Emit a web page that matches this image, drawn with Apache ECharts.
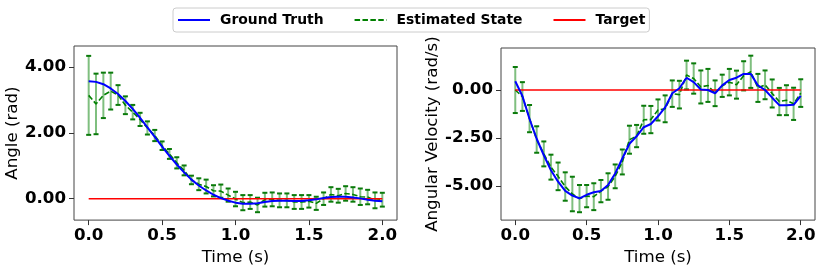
<!DOCTYPE html>
<html>
<head>
<meta charset="utf-8">
<script src="https://cdn.jsdelivr.net/npm/echarts@6/dist/echarts.min.js"></script>
<style>
html,body{margin:0;padding:0;background:#fff;}
#chart{width:831px;height:271px;}
</style>
</head>
<body>
<div id="chart"></div>
<script>
var time = [0.00,0.05,0.10,0.15,0.20,0.25,0.30,0.35,0.40,0.45,0.50,0.55,0.60,0.65,0.70,0.75,0.80,0.85,0.90,0.95,1.00,1.05,1.10,1.15,1.20,1.25,1.30,1.35,1.40,1.45,1.50,1.55,1.60,1.65,1.70,1.75,1.80,1.85,1.90,1.95,2.00];

var angleTruth = [3.57,3.55,3.48,3.35,3.18,2.97,2.73,2.46,2.17,1.88,1.58,1.30,1.04,0.80,0.58,0.40,0.25,0.12,0.02,-0.06,-0.12,-0.15,-0.15,-0.14,-0.10,-0.07,-0.06,-0.06,-0.07,-0.07,-0.05,-0.02,0.02,0.05,0.06,0.06,0.04,0.01,-0.03,-0.06,-0.08];
var angleEst = [3.14,2.88,3.14,3.27,3.15,2.84,2.63,2.41,2.15,1.92,1.61,1.36,1.09,0.86,0.57,0.44,0.37,0.24,0.23,0.11,-0.01,-0.12,-0.10,-0.19,-0.03,-0.02,-0.05,-0.05,-0.10,-0.10,-0.08,-0.14,0.00,0.13,0.09,0.16,0.13,0.06,0.05,-0.05,-0.03];
var angleErr = [1.20,0.92,0.69,0.56,0.30,0.27,0.22,0.20,0.20,0.17,0.13,0.15,0.17,0.15,0.13,0.18,0.21,0.17,0.20,0.20,0.22,0.23,0.21,0.22,0.21,0.21,0.21,0.21,0.21,0.21,0.19,0.20,0.19,0.22,0.21,0.22,0.22,0.25,0.22,0.24,0.21];

var velTruth = [0.46,-0.31,-1.51,-2.54,-3.40,-4.18,-4.78,-5.26,-5.50,-5.65,-5.46,-5.33,-5.26,-4.95,-4.35,-3.57,-2.80,-2.41,-1.94,-1.77,-1.37,-0.91,-0.17,0.09,0.64,0.41,0.03,0.00,-0.17,0.24,0.52,0.64,0.84,0.84,0.24,0.00,-0.40,-0.79,-0.79,-0.77,-0.31];
var velEst = [0.00,-0.34,-1.49,-2.58,-3.33,-4.02,-4.50,-5.03,-5.42,-5.66,-5.53,-5.56,-5.27,-5.03,-4.50,-3.75,-2.59,-2.40,-1.55,-1.54,-1.04,-0.98,-0.19,-0.24,0.78,0.60,0.16,0.24,-0.17,0.22,0.41,0.28,0.74,0.95,0.11,0.27,-0.18,-0.60,-0.53,-0.72,-0.16];
var velErr = [1.20,0.75,0.71,0.69,0.65,0.65,0.72,0.74,0.90,0.71,0.58,0.70,0.58,0.69,0.62,0.65,0.73,0.58,0.73,0.71,0.55,0.70,0.69,0.72,0.75,0.79,0.86,0.86,0.67,0.58,0.69,0.73,0.76,0.84,0.73,0.75,0.73,0.71,0.78,0.84,0.72];

var targetTimes = [0.0, 2.0];
var targetValues = [0.0, 0.0];

var xTicks = [0, 0.5, 1.0, 1.5, 2.0];
var angleTicks = [0, 2, 4];
var velTicks = [-5, -2.5, 0];

var seriesNames = ['Ground Truth', 'Estimated State', 'Target'];

function pairs(xs, ys) { return xs.map(function (x, i) { return [x, ys[i]]; }); }
function errData(xs, ys, es) { return xs.map(function (x, i) { return [x, ys[i] - es[i], ys[i] + es[i]]; }); }

var FONT = 'DejaVu Sans';
var FS = 16.67;

function renderErr(params, api) {
  var x = api.value(0);
  var lo = api.coord([x, api.value(1)]);
  var hi = api.coord([x, api.value(2)]);
  var cw = 2.5;
  return {
    type: 'group',
    children: [
      { type: 'line', shape: { x1: lo[0], y1: lo[1], x2: hi[0], y2: hi[1] },
        style: { stroke: 'rgba(0,128,0,0.5)', lineWidth: 2 } },
      { type: 'line', shape: { x1: lo[0] - cw, y1: lo[1], x2: lo[0] + cw, y2: lo[1] },
        style: { stroke: '#0a7a0a', lineWidth: 2 } },
      { type: 'line', shape: { x1: hi[0] - cw, y1: hi[1], x2: hi[0] + cw, y2: hi[1] },
        style: { stroke: '#0a7a0a', lineWidth: 2 } }
    ]
  };
}

function xAxisCfg(gi) {
  return {
    type: 'value', gridIndex: gi, min: -0.1, max: 2.1, position: 'bottom',
    name: 'Time (s)', nameLocation: 'middle', nameGap: 23,
    nameTextStyle: { fontFamily: FONT, fontSize: FS, color: '#000' },
    axisLine: { show: false, onZero: false },
    axisTick: { show: true, length: 5, lineStyle: { color: '#333' }, customValues: xTicks },
    axisLabel: { customValues: xTicks, fontFamily: FONT, fontSize: FS, fontWeight: 'bold', color: '#000', margin: 7,
      formatter: function (v) { return v.toFixed(1); } },
    splitLine: { show: false }
  };
}

function yAxisCfg(gi, name, mn, mx, ticks, gap) {
  return {
    type: 'value', gridIndex: gi, min: mn, max: mx, position: 'left',
    name: name, nameLocation: 'middle', nameGap: gap,
    nameTextStyle: { fontFamily: FONT, fontSize: FS, color: '#000' },
    axisLine: { show: false, onZero: false },
    axisTick: { show: true, length: 5, lineStyle: { color: '#333' }, customValues: ticks },
    axisLabel: { customValues: ticks, fontFamily: FONT, fontSize: FS, fontWeight: 'bold', color: '#000', margin: 8,
      formatter: function (v) { return v.toFixed(2); } },
    splitLine: { show: false }
  };
}

var chart = echarts.init(document.getElementById('chart'), null, { renderer: 'canvas' });
chart.setOption({
  animation: false,
  backgroundColor: '#fff',
  legend: {
    data: seriesNames,
    left: 173, top: 8,
    padding: [5, 4, 5, 4],
    itemWidth: 32, itemHeight: 14, itemGap: 30,
    borderColor: '#cccccc', borderWidth: 1, borderRadius: 3,
    itemStyle: { opacity: 0, borderWidth: 0 },
    textStyle: { fontFamily: FONT, fontSize: 13.9, fontWeight: 'bold', color: '#000', padding: [0, 0, 0, 5] }
  },
  grid: [
    { left: 74, top: 46, width: 323, height: 176, show: true, borderColor: '#444', borderWidth: 1, backgroundColor: 'transparent' },
    { left: 501, top: 48, width: 314, height: 174, show: true, borderColor: '#444', borderWidth: 1, backgroundColor: 'transparent' }
  ],
  xAxis: [xAxisCfg(0), xAxisCfg(1)],
  yAxis: [
    yAxisCfg(0, 'Angle (rad)', -0.65, 4.64, angleTicks, 49),
    yAxisCfg(1, 'Angular Velocity (rad/s)', -6.78, 2.19, velTicks, 56)
  ],
  series: [
    { type: 'custom', xAxisIndex: 0, yAxisIndex: 0, renderItem: renderErr, data: errData(time, angleEst, angleErr), z: 1, silent: true },
    { name: 'Estimated State', type: 'line', xAxisIndex: 0, yAxisIndex: 0, data: pairs(time, angleEst), symbol: 'none', z: 2,
      lineStyle: { color: '#008000', width: 1.6, type: [5.5, 2.4] }, itemStyle: { color: '#008000' } },
    { name: 'Target', type: 'line', xAxisIndex: 0, yAxisIndex: 0, data: pairs(targetTimes, targetValues), symbol: 'none', z: 3,
      lineStyle: { color: '#ff0000', width: 1.5 }, itemStyle: { color: '#ff0000' } },
    { name: 'Ground Truth', type: 'line', xAxisIndex: 0, yAxisIndex: 0, data: pairs(time, angleTruth), symbol: 'none', z: 4,
      lineStyle: { color: '#0000ff', width: 2 }, itemStyle: { color: '#0000ff' } },

    { type: 'custom', xAxisIndex: 1, yAxisIndex: 1, renderItem: renderErr, data: errData(time, velEst, velErr), z: 1, silent: true },
    { name: 'Estimated State', type: 'line', xAxisIndex: 1, yAxisIndex: 1, data: pairs(time, velEst), symbol: 'none', z: 2,
      lineStyle: { color: '#008000', width: 1.6, type: [5.5, 2.4] }, itemStyle: { color: '#008000' } },
    { name: 'Target', type: 'line', xAxisIndex: 1, yAxisIndex: 1, data: pairs(targetTimes, targetValues), symbol: 'none', z: 3,
      lineStyle: { color: '#ff0000', width: 1.5 }, itemStyle: { color: '#ff0000' } },
    { name: 'Ground Truth', type: 'line', xAxisIndex: 1, yAxisIndex: 1, data: pairs(time, velTruth), symbol: 'none', z: 4,
      lineStyle: { color: '#0000ff', width: 2 }, itemStyle: { color: '#0000ff' } }
  ]
});
</script>
</body>
</html>
